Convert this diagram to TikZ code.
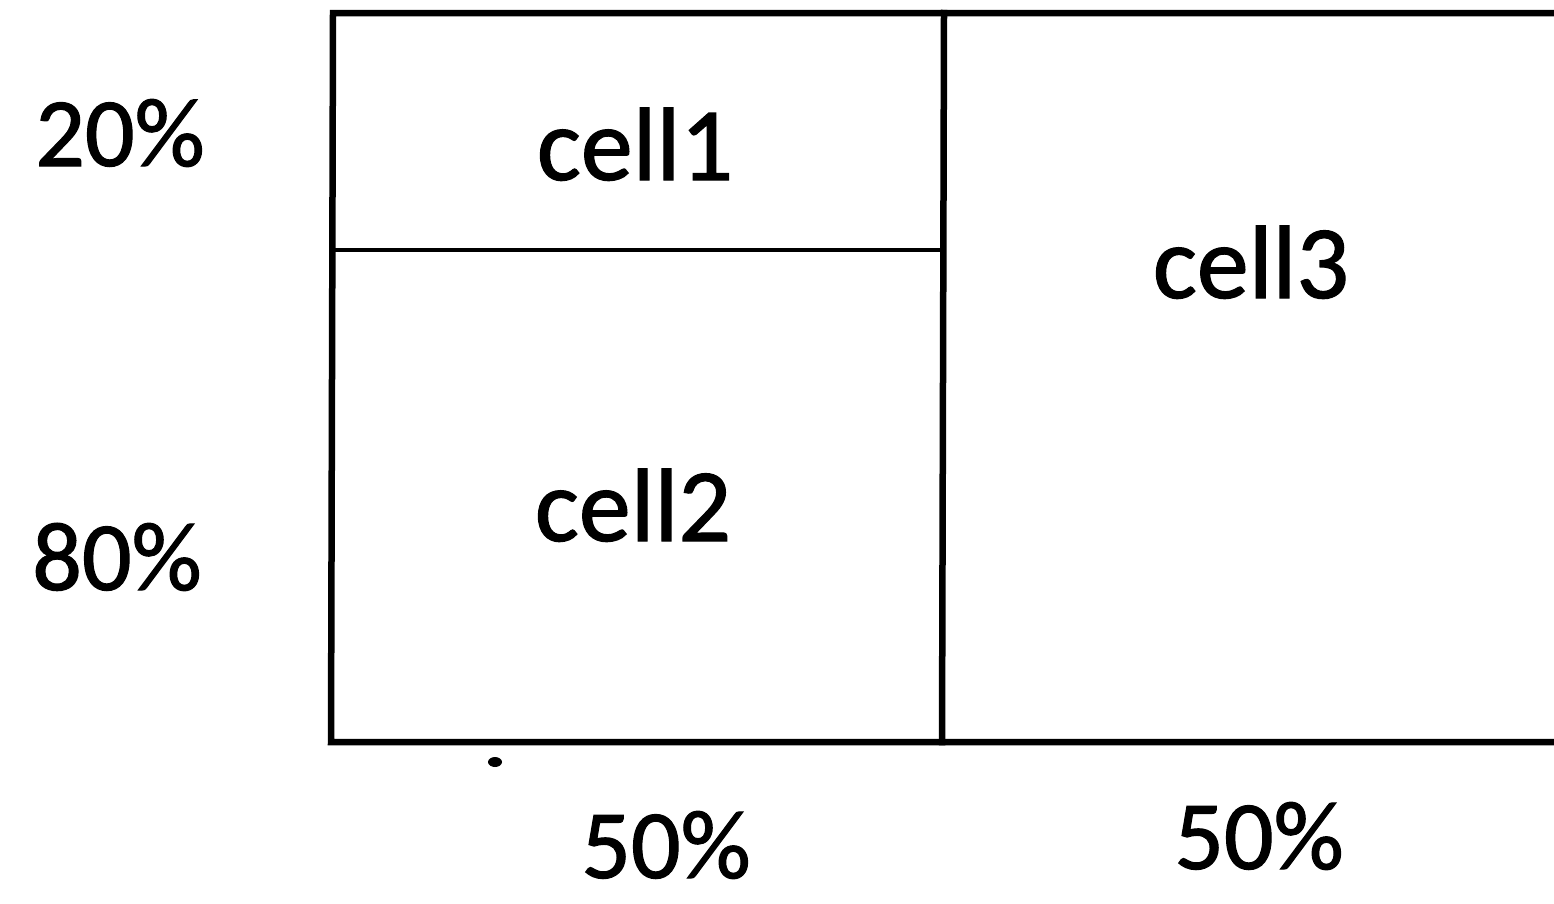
\documentclass[tikz,border=0pt]{standalone}
\usepackage{fontspec}
\setmainfont[FakeBold=1.2]{Carlito}
\begin{document}
\begin{tikzpicture}[x=1pt,y=-1pt,
  frame/.style={line width=6.5pt,line cap=rect},
  divider/.style={line width=4.5pt},
  celllabel/.style={anchor=base,inner sep=0pt,font=\fontsize{104}{120}\selectfont},
  pctlabel/.style={anchor=base,inner sep=0pt,font=\fontsize{98}{116}\selectfont}]
  \useasboundingbox (0,0) rectangle (1554,903);
  % grid corners
  \coordinate (tl) at (333,13);
  \coordinate (tr) at (1560,13);
  \coordinate (bl) at (331,742);
  \coordinate (br) at (1560,742);
  \coordinate (tm) at (944,13);
  \coordinate (bm) at (942,742);
  \coordinate (ml) at (332,250);
  \coordinate (mm) at (943,250);
  % outer frame (open to the right) and inner rules
  \draw[frame] (tr) -- (tl) -- (bl) -- (br);
  \draw[frame] (tm) -- (bm);
  \draw[divider] (ml) -- (mm);
  % cell labels
  \node[celllabel] (c1) at (635,180) {cell1};
  \node[celllabel] (c2) at (633,541) {cell2};
  \node[celllabel] (c3) at (1251,298) {cell3};
  % row shares
  \node[pctlabel] (r1) at (120,166) {20\%};
  \node[pctlabel] (r2) at (117,590) {80\%};
  % column shares
  \node[pctlabel] (k1) at (666,878) {50\%};
  \node[pctlabel] (k2) at (1259,869) {50\%};
  % small ink speck under the bottom rule
  \fill (495,762) ellipse (7 and 5);
\end{tikzpicture}
\end{document}
